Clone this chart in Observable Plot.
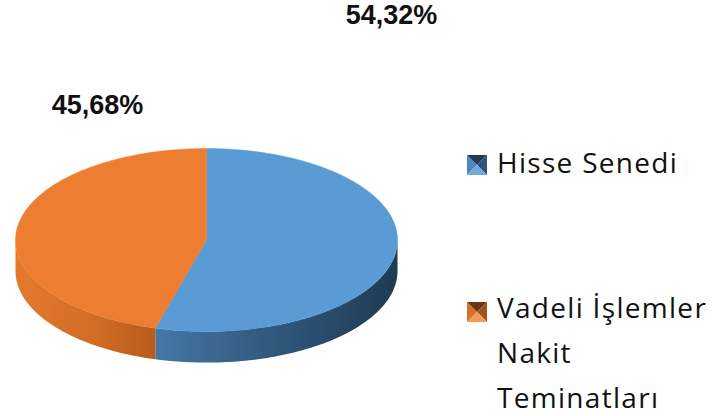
<!DOCTYPE html>
<html>
<head>
<meta charset="utf-8">
<script src="https://cdn.jsdelivr.net/npm/d3@7"></script>
<script src="https://cdn.jsdelivr.net/npm/@observablehq/plot@0.6"></script>
<style>
  html, body { margin: 0; padding: 0; background: #fff; }
  #wrap { position: relative; width: 722px; height: 416px; overflow: hidden; }
  #legend { position: absolute; left: 467px; top: 0; font-family: "Open Sans", sans-serif; font-size: 28px; color: #111; letter-spacing: 1.3px; }
  .item { position: absolute; left: 0; white-space: nowrap; }
  .item svg { position: absolute; left: 0; }
  .item .txt { position: absolute; left: 30px; line-height: 30px; }
</style>
</head>
<body>
<div id="wrap"><div id="chart"></div><div id="legend"></div></div>
<script>
const categories = ["Hisse Senedi", "Vadeli İşlemler Nakit Teminatları"];
const legendLines = [["Hisse Senedi"], ["Vadeli İşlemler", "Nakit", "Teminatları"]];
const values = [54.32, 45.68];
const labels = ["54,32%", "45,68%"];
const colors = ["#5B9BD5", "#ED7D31"];

const total = d3.sum(values);
const TAU = 2 * Math.PI;
const depth = 0.34;

// slice angles (clockwise from 12 o'clock)
let acc = 0;
const slices = values.map((v, i) => {
  const a0 = acc / total * TAU; acc += v;
  const a1 = acc / total * TAU;
  return {i, key: categories[i], a0, a1};
});

function arc(a0, a1, sx = 1, sy = 1, dy = 0) {
  const n = Math.max(2, Math.ceil((a1 - a0) / 0.02));
  return d3.range(n + 1).map(k => {
    const t = a0 + (a1 - a0) * k / n;
    return {x: sx * Math.sin(t), y: sy * Math.cos(t) + dy};
  });
}

const tops = slices.flatMap(s => [{x: 0, y: 0}, ...arc(s.a0, s.a1)].map(p => ({...p, s: s.i})));
const sides = slices.flatMap(s => {
  const lo = Math.max(s.a0, Math.PI / 2), hi = Math.min(s.a1, 3 * Math.PI / 2);
  if (hi <= lo) return [];
  return [...arc(lo, hi), ...arc(lo, hi, 1, 1, -depth).reverse()].map(p => ({...p, s: s.i}));
});
const rims = slices.flatMap(s => {
  const lo = Math.max(s.a0, Math.PI / 2 + 0.12), hi = Math.min(s.a1, 3 * Math.PI / 2 - 0.12);
  if (hi <= lo) return [];
  return arc(lo, hi, 0.985, 0.955, -0.01).map(p => ({...p, s: s.i}));
});
const shadow = arc(0, TAU, 1.02, 1.0, -depth - 0.1);

const sideFill = ["url(#sideBlue)", "url(#sideOrange)"];
const rimStroke = ["url(#rimBlue)", "url(#rimOrange)"];

const plot = Plot.plot({
  width: 722, height: 416,
  margin: 0,
  x: {domain: [-1, 1], range: [15, 397], axis: null},
  y: {domain: [-1, 1], range: [331, 148], axis: null},
  marks: [
    Plot.line(shadow, {x: "x", y: "y", fill: "#a8a8a8", fillOpacity: 0.5, stroke: "none", curve: "linear-closed", ariaLabel: "shadow"}),
    ...slices.map(s => Plot.line(sides.filter(p => p.s === s.i), {x: "x", y: "y", fill: sideFill[s.i], stroke: "none", curve: "linear-closed"})),
    ...slices.map(s => Plot.line(tops.filter(p => p.s === s.i), {x: "x", y: "y", fill: colors[s.i], stroke: colors[s.i], strokeWidth: 0.5, curve: "linear-closed"})),
    ...slices.map(s => Plot.line(rims.filter(p => p.s === s.i), {x: "x", y: "y", stroke: rimStroke[s.i], strokeWidth: 7, strokeOpacity: 0.85, ariaLabel: "rim"})),
    Plot.text([0], {x: () => 0.969, y: () => 2.45, text: () => labels[0], fontSize: 27, fontWeight: "bold", fontFamily: "Liberation Sans", fill: "#111"}),
    Plot.text([1], {x: () => -0.571, y: () => 1.47, text: () => labels[1], fontSize: 27, fontWeight: "bold", fontFamily: "Liberation Sans", fill: "#111"})
  ]
});

const svg = d3.select(plot);
const defs = svg.insert("defs", ":first-child");
function lin(id, stops, x2 = "100%", y2 = "0%") {
  const g = defs.append("linearGradient").attr("id", id).attr("x1", "0%").attr("y1", "0%").attr("x2", x2).attr("y2", y2);
  stops.forEach(([o, c, op]) => g.append("stop").attr("offset", o).attr("stop-color", c).attr("stop-opacity", op ?? 1));
}
lin("sideBlue", [[0, "#4677A6"], [0.45, "#325A80"], [1, "#1F3A53"]]);
lin("sideOrange", [[0, "#E47A2E"], [0.6, "#D06B24"], [1, "#B85C1C"]]);
lin("rimBlue", [[0, "#80BEF2", 0.95], [0.3, "#5B9BD5", 0.2], [0.8, "#477DB2", 0.5], [1, "#3D6E9E", 0.8]]);
lin("rimOrange", [[0, "#E9792E", 0.4], [0.5, "#F8A262", 0.9], [1, "#F69A56", 0.95]]);
const f = defs.append("filter").attr("id", "blur").attr("x", "-20%").attr("y", "-50%").attr("width", "140%").attr("height", "200%");
f.append("feGaussianBlur").attr("stdDeviation", 5);
const f2 = defs.append("filter").attr("id", "blur2").attr("x", "-20%").attr("y", "-50%").attr("width", "140%").attr("height", "200%");
f2.append("feGaussianBlur").attr("stdDeviation", 2);
svg.selectAll('g[aria-label="shadow"]').attr("filter", "url(#blur)");
svg.selectAll('g[aria-label="rim"]').attr("filter", "url(#blur2)");

document.getElementById("chart").appendChild(plot);

// legend
const markerShades = [
  {l: "#4F87BC", t: "#1F3A53", r: "#2D5378", b: "#6FA9DF"},
  {l: "#D8712A", t: "#6A3510", r: "#A4521A", b: "#F29A58"}
];
const legendTops = [155, 302];
const lg = d3.select("#legend");
categories.forEach((c, i) => {
  const it = lg.append("div").attr("class", "item").style("top", legendTops[i] + "px");
  const m = markerShades[i];
  const s = it.append("svg").attr("width", 20).attr("height", 20);
  s.append("polygon").attr("points", "0,0 10,10 0,20").attr("fill", m.l);
  s.append("polygon").attr("points", "0,0 20,0 10,10").attr("fill", m.t);
  s.append("polygon").attr("points", "20,0 20,20 10,10").attr("fill", m.r);
  s.append("polygon").attr("points", "0,20 20,20 10,10").attr("fill", m.b);
  legendLines[i].forEach((ln, k) => {
    it.append("div").attr("class", "txt").style("top", ((i === 0 ? -7.9 : -9.9) + k * 45) + "px").text(ln);
  });
});
</script>
</body>
</html>
